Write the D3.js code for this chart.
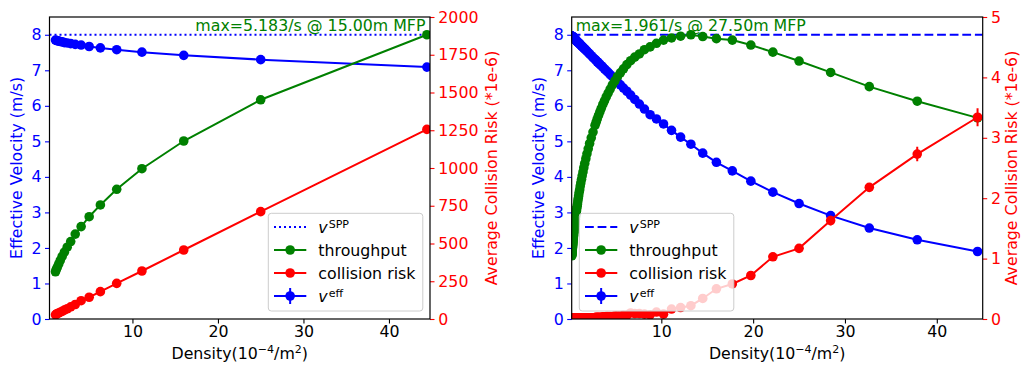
<!DOCTYPE html>
<html><head><meta charset="utf-8">
<script src="https://cdn.jsdelivr.net/npm/d3@7"></script>
<style>body{margin:0;background:#fff}svg{display:block}text{font-family:"DejaVu Sans",sans-serif}</style>
</head><body><svg id="c" width="1021" height="365"></svg>
<script>
// ---------- data ----------
const densityTicks = [10, 20, 30, 40];
const velocityTicks = [0, 1, 2, 3, 4, 5, 6, 7, 8];
const leftRiskTicks = [0, 250, 500, 750, 1000, 1250, 1500, 1750, 2000];
const rightRiskTicks = [0, 1, 2, 3, 4, 5];
const vSpp = 8;

const leftDensity = [44.44,25.00,16.00,11.11,8.16,6.25,4.94,4.00,3.31,2.78,2.37,2.04,1.78,1.56,1.38,1.23,1.11,1.00];
const leftVelocity = [7.09,7.30,7.42,7.51,7.58,7.63,7.67,7.71,7.73,7.75,7.77,7.78,7.80,7.81,7.82,7.83,7.84,7.85];
const leftThroughput = [8.00,6.17,5.01,4.23,3.65,3.21,2.88,2.60,2.39,2.18,2.02,1.88,1.76,1.65,1.55,1.47,1.40,1.33];
const leftRisk = [1256,711,457,318,236,181,144,121,96,80,68,59,51,45,40,35,32,28];
const leftNote = "max=5.183/s @ 15.00m MFP";

const rightDensity = [44.44,37.87,32.65,28.44,25.00,22.15,19.75,17.73,16.00,14.51,13.22,12.10,11.11,10.24,9.47,8.78,8.16,
  7.61,7.11,6.66,6.25,5.88,5.54,5.22,4.94,4.67,4.43,4.21,4.00,3.81,3.63,3.46,3.31,3.16,3.02,2.90,2.78,
  2.56,2.37,2.19,2.04,1.90,1.78,1.66,1.56,1.47,1.38,1.31,1.23,1.17,1.11,1.05,1.00,0.95,0.91,0.87,0.83,
  0.79,0.76,0.72,0.69,0.67,0.64,0.62,0.59,0.57,0.55,0.53,0.51,0.49,0.48,0.46,0.44,0.43,0.42,0.40,0.39,
  0.38,0.37,0.36,0.35,0.34,0.33,0.32,0.31,0.30,0.29,0.28,0.277,0.270,0.263,0.256,0.25];
const rightVelocity = [1.90,2.23,2.56,2.91,3.25,3.57,3.88,4.17,4.41,4.67,4.92,5.12,5.31,5.49,5.63,5.75,5.91,
  6.05,6.18,6.30,6.41,6.50,6.59,6.67,6.75,6.82,6.88,6.94,6.99,7.04,7.09,7.13,7.17,7.21,7.24,7.28,7.31,
  7.36,7.41,7.46,7.50,7.54,7.57,7.60,7.62,7.65,7.67,7.69,7.71,7.73,7.74,7.76,7.77,7.78,7.79,7.80,7.81,
  7.82,7.83,7.84,7.85,7.86,7.86,7.87,7.88,7.88,7.89,7.89,7.90,7.90,7.91,7.91,7.92,7.92,7.92,7.93,7.93,
  7.93,7.93,7.94,7.94,7.94,7.94,7.95,7.95,7.95,7.95,7.96,7.96,7.96,7.96,7.96,7.97];
const rightThroughput = [5.66,6.13,6.54,6.94,7.26,7.51,7.71,7.85,7.89,7.95,8.00,7.96,7.91,7.85,7.76,7.66,7.58,
  7.46,7.37,7.27,7.16,7.04,6.93,6.82,6.70,6.59,6.47,6.36,6.25,6.14,6.04,5.93,5.83,5.73,5.63,5.54,5.45,
  5.26,5.10,4.94,4.79,4.65,4.51,4.38,4.26,4.14,4.03,3.93,3.83,3.74,3.64,3.56,3.47,3.39,3.32,3.24,3.17,
  3.11,3.04,2.98,2.92,2.87,2.81,2.76,2.71,2.66,2.61,2.56,2.52,2.48,2.44,2.40,2.36,2.32,2.28,2.25,2.22,
  2.18,2.15,2.12,2.09,2.06,2.03,2.00,1.97,1.95,1.92,1.90,1.87,1.85,1.82,1.80,1.78];
const rightRisk = [3.34,2.73,2.18,1.63,1.17,1.03,0.72,0.58,0.50,0.34,0.22,0.19,0.165,0.08,0.115,0.07,0.08,
  0.09,0.09,0.10,0.06,0.06,0.05,0.05,0.05,0.04,0.04,0.04,0.04,0.035,0.035,0.03,0.03,0.03,0.03,0.03,0.025,
  0.02,0.02,0.02,0.02,0.02,0.02,0.02,0.02,0.02,0.02,0.02,0.02,0.02,0.02,0.02,0.02,0.015,0.015,0.015,0.015,
  0.015,0.015,0.015,0.015,0.015,0.015,0.015,0.015,0.015,0.015,0.015,0.015,0.015,0.015,0.015,0.015,0.01,0.01,0.01,0.01,
  0.01,0.01,0.01,0.01,0.01,0.01,0.01,0.01,0.01,0.01,0.01,0.01,0.01,0.01,0.01,0.01];
const rightRiskErr = [0.15,0.12,0.07,0.08,0.05,0.06,0.04,0.03,0.04,0.03,0.02,0.02,0.02,0.02,0.02,0.02,0.02];
const rightNote = "max=1.961/s @ 27.50m MFP";

// ---------- drawing ----------
const svg = d3.select('#c');
const FS = 15.8;
const BLUE = '#0000ff', GREEN = '#008000', RED = '#ff0000';
const defs = svg.append('defs');

function panel(p) {
  const g = svg.append('g');
  const x = d3.scaleLinear().domain(p.xDomain).range([p.x0, p.x1]);
  const y = d3.scaleLinear().domain([0, 8.5]).range([p.y1, p.y0]);
  const y2 = d3.scaleLinear().domain([0, p.riskMax]).range([p.y1, p.y0]);
  defs.append('clipPath').attr('id', 'clip' + p.id).append('rect')
    .attr('x', p.x0).attr('y', p.y0).attr('width', p.x1 - p.x0).attr('height', p.y1 - p.y0);
  const plot = g.append('g').attr('clip-path', `url(#clip${p.id})`);

  plot.append('line').attr('x1', x.range()[0]).attr('x2', x.range()[1])
    .attr('y1', y(vSpp)).attr('y2', y(vSpp))
    .attr('stroke', BLUE).attr('stroke-width', 2).attr('stroke-dasharray', p.dash);

  function series(xs, ys, sy, color, err) {
    const P = xs.map((d, i) => [x(d), sy(ys[i])]);
    plot.append('path').attr('d', d3.line()(P)).attr('fill', 'none')
      .attr('stroke', color).attr('stroke-width', 2);
    if (err) err.forEach((e, i) => {
      plot.append('line').attr('x1', x(xs[i])).attr('x2', x(xs[i]))
        .attr('y1', sy(ys[i] - e)).attr('y2', sy(ys[i] + e))
        .attr('stroke', color).attr('stroke-width', 2);
    });
    plot.append('g').selectAll('circle').data(P).join('circle')
      .attr('cx', d => d[0]).attr('cy', d => d[1]).attr('r', 4.8).attr('fill', color);
  }
  series(p.density, p.velocity, y, BLUE);
  series(p.density, p.throughput, y, GREEN);
  series(p.density, p.risk, y2, RED, p.riskErr);

  // axes
  const ax = g.append('g').attr('transform', `translate(0,${p.y1})`)
    .call(d3.axisBottom(x).tickValues(densityTicks).tickSize(4.5).tickPadding(2.5).tickFormat(d3.format('d')));
  ax.select('.domain').remove();
  ax.selectAll('text').attr('font-size', FS).attr('fill', '#000').attr('font-family', 'DejaVu Sans');
  ax.selectAll('line').attr('stroke', '#000').attr('stroke-width', 1.1);

  const ay = g.append('g').attr('transform', `translate(${p.x0},0)`)
    .call(d3.axisLeft(y).tickValues(velocityTicks).tickSize(4.5).tickPadding(3.5).tickFormat(d3.format('d')));
  ay.select('.domain').remove();
  ay.selectAll('text').attr('font-size', FS).attr('fill', BLUE).attr('font-family', 'DejaVu Sans');
  ay.selectAll('line').attr('stroke', BLUE).attr('stroke-width', 1.1);

  const ar = g.append('g').attr('transform', `translate(${p.x1},0)`)
    .call(d3.axisRight(y2).tickValues(p.riskTicks).tickSize(4.5).tickPadding(3.8).tickFormat(d3.format('d')));
  ar.select('.domain').remove();
  ar.selectAll('text').attr('font-size', FS).attr('fill', RED).attr('font-family', 'DejaVu Sans');
  ar.selectAll('line').attr('stroke', RED).attr('stroke-width', 1.1);

  g.append('rect').attr('x', p.x0).attr('y', p.y0).attr('width', p.x1 - p.x0).attr('height', p.y1 - p.y0)
    .attr('fill', 'none').attr('stroke', '#000').attr('stroke-width', 1.2);

  // axis labels
  const xl = g.append('text').attr('x', (p.x0 + p.x1) / 2).attr('y', 359).attr('text-anchor', 'middle')
    .attr('font-size', FS).attr('fill', '#000');
  xl.append('tspan').text('Density(10');
  xl.append('tspan').attr('font-size', FS * 0.7).attr('dy', -6).text('\u22124');
  xl.append('tspan').attr('dy', 6).text('/m');
  xl.append('tspan').attr('font-size', FS * 0.7).attr('dy', -6).text('2');
  xl.append('tspan').attr('dy', 6).text(')');

  g.append('text').attr('transform', `translate(${p.x0 - 28},${(p.y0 + p.y1) / 2}) rotate(-90)`)
    .attr('text-anchor', 'middle').attr('font-size', FS).attr('fill', BLUE).text('Effective Velocity (m/s)');
  g.append('text').attr('transform', `translate(${p.x1 + p.rLabelGap},${(p.y0 + p.y1) / 2}) rotate(-90)`)
    .attr('text-anchor', 'middle').attr('font-size', FS).attr('fill', RED).text('Average Collision Risk (*1e-6)');

  // note
  g.append('text').attr('x', p.noteX).attr('y', 31).attr('text-anchor', p.noteAnchor)
    .attr('font-size', FS).attr('fill', GREEN).text(p.note);

  // legend
  const lx = p.legendX;
  const L = g.append('g');
  L.append('rect').attr('x', lx).attr('y', 213.3).attr('width', 154.5).attr('height', 97.7).attr('rx', 3)
    .attr('fill', '#fff').attr('fill-opacity', 0.8).attr('stroke', '#cccccc').attr('stroke-width', 1);
  const rows = [227, 250, 273, 296];
  const hx0 = lx + 5.7, hx1 = lx + 38, hm = (hx0 + hx1) / 2, tx = lx + 50;
  L.append('line').attr('x1', hx0).attr('x2', hx1).attr('y1', rows[0]).attr('y2', rows[0])
    .attr('stroke', BLUE).attr('stroke-width', 2).attr('stroke-dasharray', p.dash);
  [[rows[1], GREEN], [rows[2], RED], [rows[3], BLUE]].forEach(([ry, c], i) => {
    L.append('line').attr('x1', hx0).attr('x2', hx1).attr('y1', ry).attr('y2', ry).attr('stroke', c).attr('stroke-width', 2);
    if (i === 2) L.append('line').attr('x1', hm).attr('x2', hm).attr('y1', ry - 8).attr('y2', ry + 8).attr('stroke', c).attr('stroke-width', 2);
    L.append('circle').attr('cx', hm).attr('cy', ry).attr('r', 4.8).attr('fill', c);
  });
  function vlabel(ry, sup) {
    const t = L.append('text').attr('x', tx).attr('y', ry + 5.7).attr('font-size', FS).attr('fill', '#000');
    t.append('tspan').attr('font-style', 'italic').text('v');
    t.append('tspan').attr('font-size', FS * 0.7).attr('dy', -5).attr('dx', 1).text(sup);
  }
  vlabel(rows[0], 'SPP');
  L.append('text').attr('x', tx).attr('y', rows[1] + 5.7).attr('font-size', FS).attr('fill', '#000').text('throughput');
  L.append('text').attr('x', tx).attr('y', rows[2] + 5.7).attr('font-size', FS).attr('fill', '#000').text('collision risk');
  vlabel(rows[3], 'eff');
}

panel({id: 'L', x0: 49.5, x1: 430, y0: 17, y1: 319, xDomain: [0.3, 44.8], riskMax: 2000, riskTicks: leftRiskTicks,
  density: leftDensity, velocity: leftVelocity, throughput: leftThroughput, risk: leftRisk, riskErr: null,
  dash: '2,3', note: leftNote, noteX: 425.5, noteAnchor: 'end', legendX: 268.3, rLabelGap: 66.5});
panel({id: 'R', x0: 571.7, x1: 982.7, y0: 17, y1: 319, xDomain: [0.24, 45.0], riskMax: 5, riskTicks: rightRiskTicks,
  density: rightDensity, velocity: rightVelocity, throughput: rightThroughput, risk: rightRisk, riskErr: rightRiskErr,
  dash: '8.8,3.8', note: rightNote, noteX: 575.7, noteAnchor: 'start', legendX: 579.3, rLabelGap: 33.8});
</script>
</body></html>
